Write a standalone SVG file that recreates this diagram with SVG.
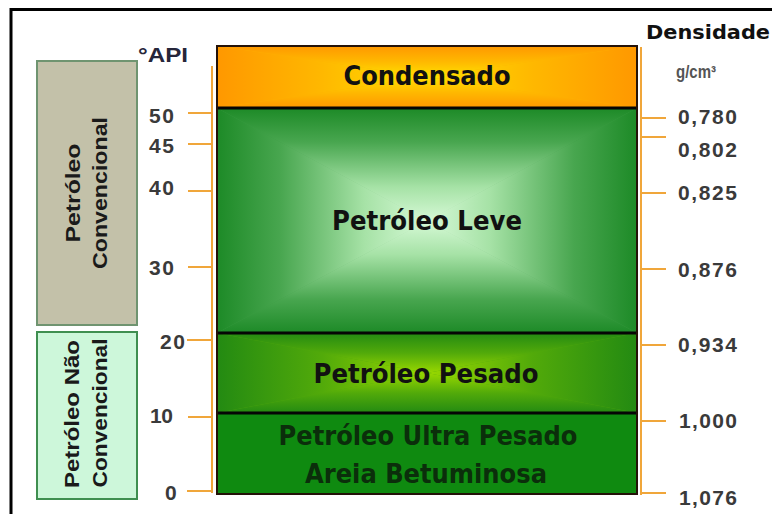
<svg xmlns="http://www.w3.org/2000/svg" width="772" height="514" viewBox="0 0 772 514">
<style>
.band{font-family:"DejaVu Sans Condensed","DejaVu Sans",sans-serif;font-weight:bold;font-size:26px;fill:#111;text-anchor:middle;font-stretch:condensed}
.ax{font-family:"Liberation Sans",Arial,sans-serif;font-weight:bold;font-size:21px;fill:#3a3a3a}
.side{font-family:"Liberation Sans",Arial,sans-serif;font-weight:bold;font-size:21px;fill:#1a1a1a;text-anchor:middle}
.tick{stroke:#f0a63a;stroke-width:2;fill:none}
.sep{stroke:#050505;stroke-width:3}
</style>
<defs>
<linearGradient id="lv" x1="0" y1="0" x2="0" y2="1"><stop offset="0" stop-color="#1d8a27"/><stop offset="0.3" stop-color="#48a64f"/><stop offset="0.7" stop-color="#a6e2a6"/><stop offset="1" stop-color="#d6f9d6"/></linearGradient>
<linearGradient id="lvT" href="#lv" x1="0" y1="0" x2="0" y2="1"/>
<linearGradient id="lvB" href="#lv" x1="0" y1="1" x2="0" y2="0"/>
<linearGradient id="lvL" href="#lv" x1="0" y1="0" x2="1" y2="0"/>
<linearGradient id="lvR" href="#lv" x1="1" y1="0" x2="0" y2="0"/>
<radialGradient id="lvBase"><stop offset="0" stop-color="#c8f2c8"/><stop offset="1" stop-color="#3a9c42"/></radialGradient>
<linearGradient id="cd" x1="0" y1="0" x2="0" y2="1"><stop offset="0" stop-color="#ff9800"/><stop offset="0.5" stop-color="#ffb800"/><stop offset="1" stop-color="#ffe000"/></linearGradient>
<linearGradient id="cdT" href="#cd" x1="0" y1="0" x2="0" y2="1"/>
<linearGradient id="cdB" href="#cd" x1="0" y1="1" x2="0" y2="0"/>
<linearGradient id="cdL" href="#cd" x1="0" y1="0" x2="1" y2="0"/>
<linearGradient id="cdR" href="#cd" x1="1" y1="0" x2="0" y2="0"/>
<linearGradient id="ps" x1="0" y1="0" x2="0" y2="1"><stop offset="0" stop-color="#238a12"/><stop offset="0.5" stop-color="#52aa0a"/><stop offset="1" stop-color="#98d800"/></linearGradient>
<linearGradient id="psT" href="#ps" x1="0" y1="0" x2="0" y2="1"/>
<linearGradient id="psB" href="#ps" x1="0" y1="1" x2="0" y2="0"/>
<linearGradient id="psL" href="#ps" x1="0" y1="0" x2="1" y2="0"/>
<linearGradient id="psR" href="#ps" x1="1" y1="0" x2="0" y2="0"/>
</defs>
<rect width="772" height="514" fill="#fff"/>
<path d="M11,514 V9.5 H772" fill="none" stroke="#000" stroke-width="3"/>

<g id="axes">
<line class="tick" x1="212" y1="66" x2="212" y2="493"/>
<line class="tick" x1="641" y1="47" x2="641" y2="495"/>
<line class="tick" x1="188" y1="113" x2="213" y2="113"/>
<line class="tick" x1="188" y1="144" x2="213" y2="144"/>
<line class="tick" x1="188" y1="191" x2="213" y2="191"/>
<line class="tick" x1="188" y1="267" x2="213" y2="267"/>
<line class="tick" x1="187" y1="340" x2="213" y2="340"/>
<line class="tick" x1="188" y1="417" x2="213" y2="417"/>
<line class="tick" x1="187" y1="491" x2="213" y2="491"/>
<line class="tick" x1="640" y1="118" x2="666" y2="118"/>
<line class="tick" x1="640" y1="137" x2="666" y2="137"/>
<line class="tick" x1="640" y1="193" x2="666" y2="193"/>
<line class="tick" x1="640" y1="269" x2="666" y2="269"/>
<line class="tick" x1="640" y1="345" x2="666" y2="345"/>
<line class="tick" x1="640" y1="421" x2="666" y2="421"/>
<line class="tick" x1="640" y1="493" x2="666" y2="493"/>
</g>

<g id="condensado">
<rect x="217" y="46" width="420" height="62" fill="#ffb000"/>
<polygon points="217,46 637,46 427,77" fill="url(#cdT)"/>
<polygon points="217,108 637,108 427,77" fill="url(#cdB)"/>
<polygon points="217,46 217,108 427,77" fill="url(#cdL)"/>
<polygon points="637,46 637,108 427,77" fill="url(#cdR)"/>
<text class="band" x="427" y="85" textLength="167" lengthAdjust="spacingAndGlyphs">Condensado</text>
</g>
<g id="leve">
<rect x="217" y="108" width="420" height="225" fill="url(#lvBase)"/>
<polygon points="217,108 637,108 427,221" fill="url(#lvT)"/>
<polygon points="217,333 637,333 427,221" fill="url(#lvB)"/>
<polygon points="217,108 217,333 427,221" fill="url(#lvL)"/>
<polygon points="637,108 637,333 427,221" fill="url(#lvR)"/>
<text class="band" x="427" y="230" textLength="190" lengthAdjust="spacingAndGlyphs">Petróleo Leve</text>
</g>
<g id="pesado">
<rect x="217" y="333" width="420" height="80" fill="#4fa80a"/>
<polygon points="217,333 637,333 427,373" fill="url(#psT)"/>
<polygon points="217,413 637,413 427,373" fill="url(#psB)"/>
<polygon points="217,333 217,413 427,373" fill="url(#psL)"/>
<polygon points="637,333 637,413 427,373" fill="url(#psR)"/>
<text class="band" x="426" y="383" textLength="225" lengthAdjust="spacingAndGlyphs">Petróleo Pesado</text>
</g>
<g id="ultra">
<rect x="217" y="413" width="420" height="81" fill="#0f8a10"/>
<text class="band" x="428" y="445" textLength="299" lengthAdjust="spacingAndGlyphs" style="fill:#0b2e0b">Petróleo Ultra Pesado</text>
<text class="band" x="426" y="483" textLength="242" lengthAdjust="spacingAndGlyphs" style="fill:#0b2e0b">Areia Betuminosa</text>
</g>
<g id="column-frame">
<line class="sep" x1="217" y1="108" x2="637" y2="108"/>
<line class="sep" x1="217" y1="333" x2="637" y2="333"/>
<line class="sep" x1="217" y1="413" x2="637" y2="413"/>
<rect x="217" y="46" width="420" height="448" fill="none" stroke="#241208" stroke-width="2"/>
</g>

<g id="api-labels">
<text class="ax" x="138" y="62" textLength="50" lengthAdjust="spacingAndGlyphs" style="fill:#26263a">°API</text>
<text class="ax" x="149" y="123" textLength="25">50</text>
<text class="ax" x="149" y="153" textLength="25">45</text>
<text class="ax" x="149" y="195" textLength="25">40</text>
<text class="ax" x="149" y="275" textLength="25">30</text>
<text class="ax" x="160" y="349" textLength="25">20</text>
<text class="ax" x="150" y="423" textLength="23">10</text>
<text class="ax" x="165" y="500" textLength="11">0</text>
</g>

<g id="density-labels">
<text x="646" y="39" textLength="124" lengthAdjust="spacingAndGlyphs" style="font-family:'DejaVu Sans Condensed','DejaVu Sans',sans-serif;font-weight:bold;font-size:20px;fill:#111">Densidade</text>
<text x="676" y="78" textLength="40" lengthAdjust="spacingAndGlyphs" style="font-family:'Liberation Sans',Arial,sans-serif;font-weight:bold;font-size:18px;fill:#555">g/cm³</text>
<text class="ax" x="678" y="124" textLength="59">0,780</text>
<text class="ax" x="678" y="157" textLength="59">0,802</text>
<text class="ax" x="678" y="200" textLength="59">0,825</text>
<text class="ax" x="678" y="277" textLength="59">0,876</text>
<text class="ax" x="678" y="352" textLength="59">0,934</text>
<text class="ax" x="679" y="428" textLength="58">1,000</text>
<text class="ax" x="679" y="505" textLength="58">1,076</text>
</g>

<g id="convencional">
<rect x="37" y="61" width="100" height="264" fill="#c3c1a9" stroke="#6f9470" stroke-width="2"/>
<text class="side" transform="translate(80,193) rotate(-90)" textLength="99" lengthAdjust="spacingAndGlyphs">Petróleo</text>
<text class="side" transform="translate(107,193) rotate(-90)" textLength="152" lengthAdjust="spacingAndGlyphs">Convencional</text>
</g>
<g id="nao-convencional">
<rect x="37" y="332" width="100" height="167" fill="#cdf7da" stroke="#3f8f50" stroke-width="2"/>
<text class="side" transform="translate(79,414) rotate(-90)" textLength="148" lengthAdjust="spacingAndGlyphs">Petróleo Não</text>
<text class="side" transform="translate(107,413) rotate(-90)" textLength="149" lengthAdjust="spacingAndGlyphs">Convencional</text>
</g>
</svg>
